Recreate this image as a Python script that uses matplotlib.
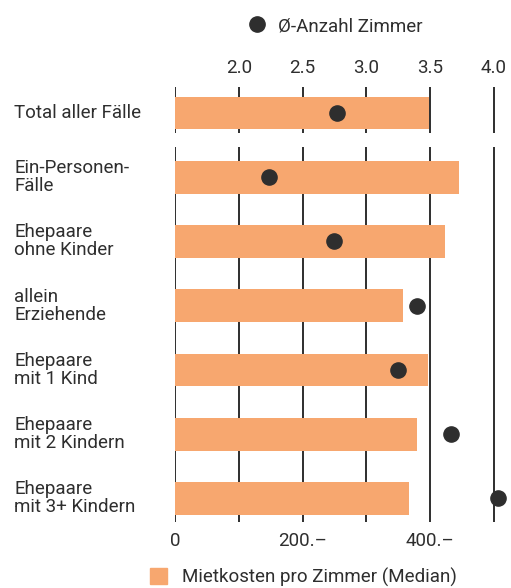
import matplotlib.pyplot as plt
from matplotlib.lines import Line2D
from matplotlib.patches import Patch
from matplotlib.transforms import blended_transform_factory

# Data
categories = ['Total aller Fälle', 'Ein-Personen-\nFälle', 'Ehepaare\nohne Kinder',
              'allein\nErziehende', 'Ehepaare\nmit 1 Kind', 'Ehepaare\nmit 2 Kindern',
              'Ehepaare\nmit 3+ Kindern']
rent_per_room = [398, 445, 423, 357, 397, 379, 367]
avg_rooms = [2.77, 2.24, 2.75, 3.40, 3.25, 3.66, 4.03]
cost_ticks = [0, 200, 400]
cost_labels = ['0', '200.–', '400.–']
room_ticks = [2.0, 2.5, 3.0, 3.5, 4.0]

bar_color = '#F7A76F'
dark = '#2E2E2E'
fs = 13.5
plt.rcParams['font.family'] = ['Roboto', 'DejaVu Sans']
plt.rcParams['text.color'] = dark

fig = plt.figure(figsize=(5.11, 5.88), dpi=100)
ax = fig.add_axes([0.3425, 0.112, 0.649, 0.740])

xmax = 520
ax.set_xlim(0, xmax)
ax.set_ylim(6.37, -0.405)

ypos = list(range(len(categories)))

# vertical grid lines, broken below the total row
for gx in range(0, 600, 100):
    ax.vlines(gx, -0.405, 0.31, color=dark, lw=1.4, zorder=1)
    ax.vlines(gx, 0.53, 6.37, color=dark, lw=1.4, zorder=1)

ax.barh(ypos, rent_per_room, height=0.51, color=bar_color, zorder=2)

# top axis for the number of rooms: 2.0 at 100, 4.0 at 500
ax2 = ax.twiny()
ax2.set_xlim(1.5, 1.5 + xmax / 200)
ax2.set_ylim(ax.get_ylim())
ax2.scatter(avg_rooms, ypos, s=120, color=dark, zorder=3)

ax.set_xticks(cost_ticks)
ax.set_xticklabels(cost_labels, fontsize=fs)
ax.set_yticks([])
ax.tick_params(axis='x', length=0, pad=7, colors=dark)
ax2.set_xticks(room_ticks)
ax2.set_xticklabels([f'{t:.1f}' for t in room_ticks], fontsize=fs)
ax2.tick_params(axis='x', length=0, pad=7, colors=dark)
for a in (ax, ax2):
    for s in a.spines.values():
        s.set_visible(False)

# category labels at the left edge of the figure
trans = blended_transform_factory(fig.transFigure, ax.transData)
for y, cat in zip(ypos, categories):
    ax.text(14 / 511, y, cat, transform=trans, ha='left', va='center',
            fontsize=fs, linespacing=1.0)

# legends
h_dot = Line2D([], [], marker='o', linestyle='none', color=dark, markersize=11)
fig.legend(handles=[h_dot], labels=['Ø-Anzahl Zimmer'], loc='center left',
           bbox_to_anchor=(246 / 511, 1 - 26 / 588), frameon=False, fontsize=fs,
           handletextpad=0.53, borderpad=0, borderaxespad=0, handlelength=1.2)
h_bar = Patch(color=bar_color)
fig.legend(handles=[h_bar], labels=['Mietkosten pro Zimmer (Median)'], loc='center left',
           bbox_to_anchor=(150 / 511, 1 - 577 / 588), frameon=False, fontsize=fs,
           handletextpad=0.8, borderpad=0, borderaxespad=0, handlelength=0.9,
           handleheight=0.9)

fig.savefig('out.png', dpi=100)
